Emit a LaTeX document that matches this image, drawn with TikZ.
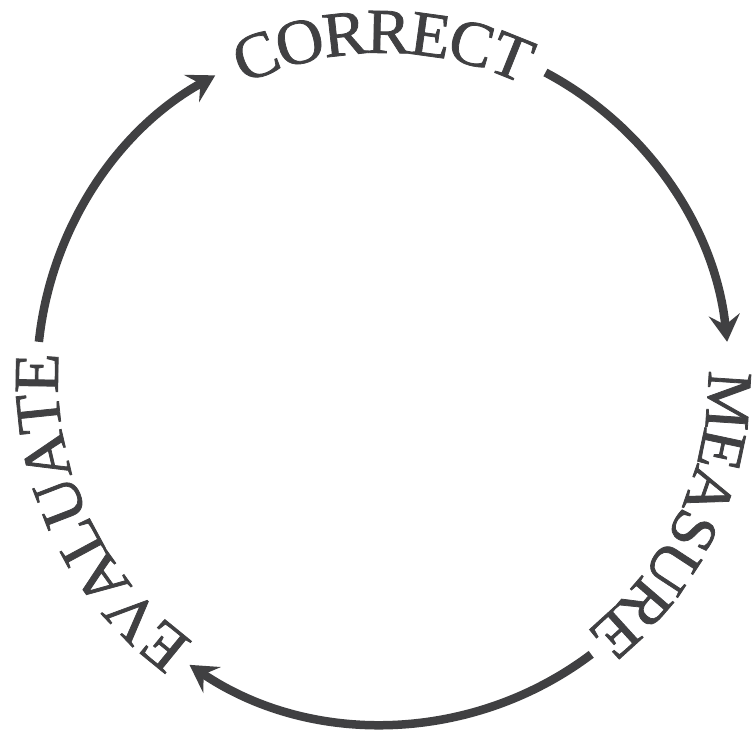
\documentclass[tikz,border=0pt]{standalone}
\usepackage{fontspec}
\setmainfont[FakeStretch=1.03,FakeBold=1.2]{Liberation Serif}
\usetikzlibrary{arrows.meta,decorations.text}
\definecolor{ink}{RGB}{64,64,66}
\tikzset{
  cycarrow/.style={draw=ink, line width=8.5pt, line cap=butt,
    -{Stealth[length=27pt,width=31pt,inset=10pt,fill=ink]}},
  cyctext/.style={decorate, decoration={text along path,
    text={|\color{ink}\fontsize{64}{70}\selectfont|#1},
    text align=center, raise=-21pt}}
}
\begin{document}
\begin{tikzpicture}[x=1pt,y=1pt]
\useasboundingbox (0,0) rectangle (752,735);
\coordinate (c) at (383,357);
% connectors
\draw[cycarrow] ([shift={(174:346pt)}]c) arc[start angle=174,end angle=119,radius=346pt];
\draw[cycarrow] ([shift={(62:346pt)}]c) arc[start angle=62,end angle=6,radius=346pt];
\draw[cycarrow] ([shift={(-53:346pt)}]c) arc[start angle=-53,end angle=-124,radius=346pt];
% labels
\path[cyctext=CORRECT] ([shift={(130:346pt)}]c) arc[start angle=130,end angle=50,radius=346pt];
\path[cyctext=MEASURE] ([shift={(15:346pt)}]c) arc[start angle=15,end angle=-65,radius=346pt];
\path[cyctext=EVALUATE] ([shift={(245:346pt)}]c) arc[start angle=245,end angle=165,radius=346pt];
\end{tikzpicture}
\end{document}
